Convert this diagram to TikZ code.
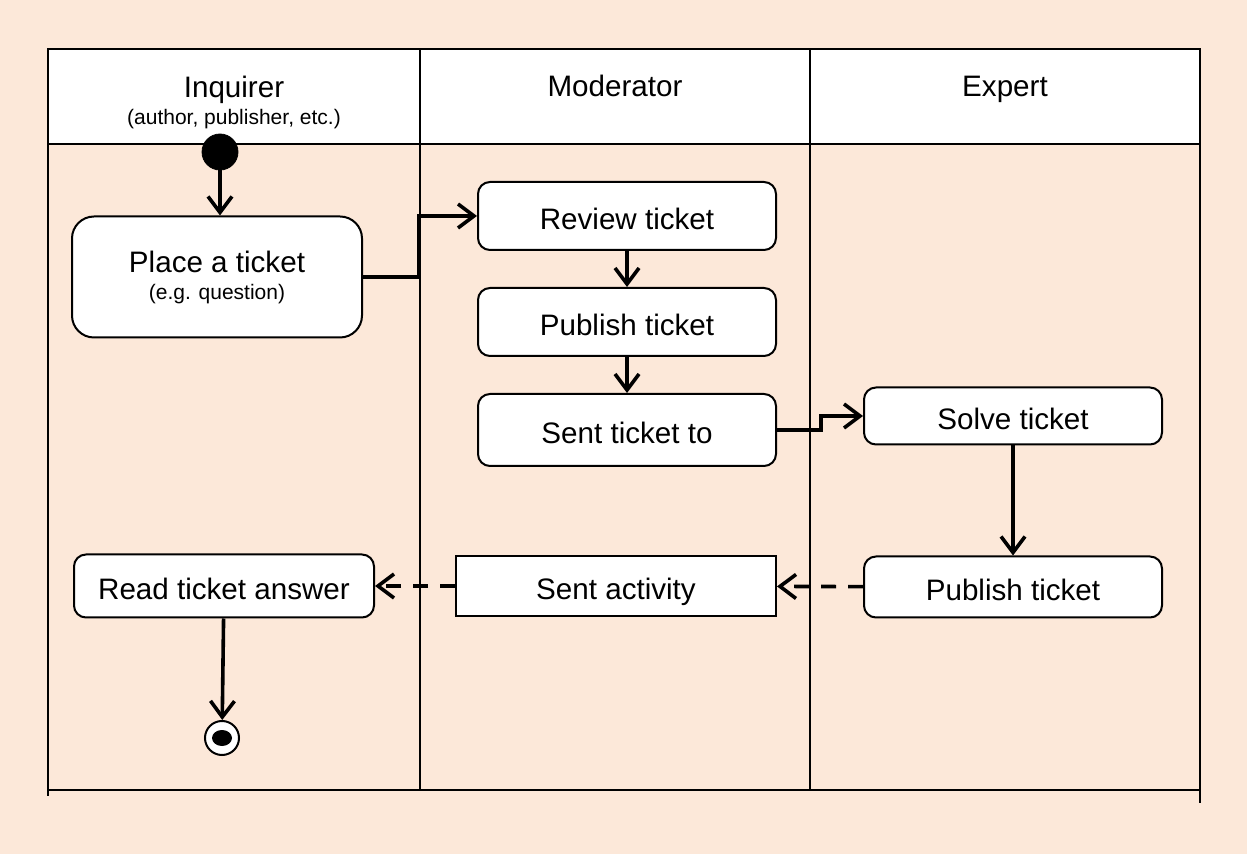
\documentclass[tikz,border=0pt]{standalone}
\usepackage{fontspec}
\setmainfont{Liberation Sans}
\usetikzlibrary{positioning,arrows.meta}
\definecolor{lanebg}{RGB}{252,232,217}

\begin{document}
\begin{tikzpicture}[x=0.5pt, y=-0.5pt,
  node distance=18pt and 42pt,
  big/.style={font=\fontsize{14.8}{13.5}\selectfont},
  act/.style={big, draw, line width=1pt, fill=white, rounded corners=6pt, align=center, minimum width=149pt, minimum height=34pt, inner sep=0pt},
  oneline/.style={act, text height=17pt, text depth=3.2pt},
  plainact/.style={oneline, rounded corners=0pt},
  head/.style={big, align=center},
  flow/.style={-{Straight Barb[length=8pt,width=12pt]}, line width=1.8pt},
  back/.style={flow, dash pattern=on 7.5pt off 6pt},
  lane/.style={line width=0.8pt}]
  \fill[lanebg] (0,0) rectangle (1247,854);
  \useasboundingbox (0,0) rectangle (1247,854);
  % swimlanes
  \draw[line width=1pt, fill=white] (48,49) rectangle (1200,144);
  \draw[lane] (420,49) -- (420,790); \draw[lane] (810,49) -- (810,790);
  \draw[line width=1pt] (48,144) -- (48,796); \draw[line width=1pt] (1200,144) -- (1200,803);
  \draw[line width=1pt] (48,790) -- (1200,790);
  \node[head] (hinq) at (234,102) {Inquirer\\{\fontsize{10.5}{13.5}\selectfont(author, publisher, etc.)}};
  \node[head, anchor=base] (hmod) at (615,97) {Moderator};
  \node[head, anchor=base] (hexp) at (1005,97) {Expert};
  % activities
  \node[circle, fill=black, draw, minimum size=18pt, inner sep=0pt] (start) at (220,152) {};
  \node[act, rounded corners=11pt, minimum width=145pt, minimum height=60.5pt] (place) at (217,277) {Place a ticket\\{\fontsize{10.5}{13.5}\selectfont(e.g. question)}};
  \node[oneline] (review) at (627,216) {Review ticket};
  \node[oneline, below=of review] (pub) {Publish ticket};
  \node[oneline, below=of pub, minimum height=36pt] (sendto) {Sent ticket to};
  \node[oneline, minimum height=28.5pt] (solve) at (1013,416) {Solve ticket};
  \node[oneline, minimum height=30.5pt] (pubexp) at (1013,587) {Publish ticket};
  \node[plainact, minimum width=160pt, minimum height=30pt] (sendact) at (616,586) {Sent activity};
  \node[oneline, minimum width=150pt, minimum height=31.5pt] (read) at (224,586) {Read ticket answer};
  \node[circle, draw, line width=1pt, fill=white, minimum size=17pt, inner sep=0pt] (stop) at (222,738) {};
  \fill (stop.center) ellipse [x radius=5pt, y radius=4pt];
  % flows
  \draw[flow] (start) -- (start |- place.north);
  \draw[flow] (place.east) -- ++(28pt,0) |- (review.west);
  \draw[flow] (review) -- (pub);
  \draw[flow] (pub) -- (sendto);
  \draw[flow] (sendto.east) -- ++(22pt,0) |- (solve.west);
  \draw[flow] (solve) -- (pubexp);
  \draw[back] (pubexp) -- (sendact);
  \draw[back] (sendact) -- (read);
  \draw[flow] (read) -- (stop);
\end{tikzpicture}
\end{document}
